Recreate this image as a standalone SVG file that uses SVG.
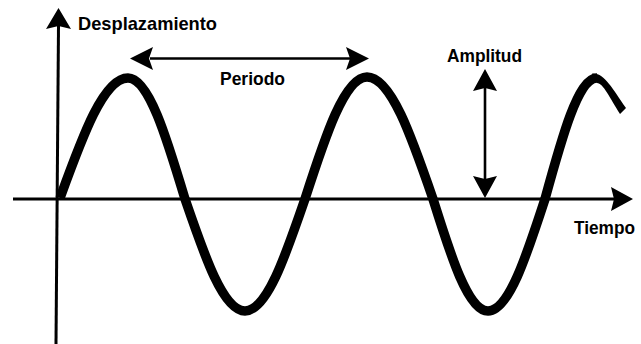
<svg xmlns="http://www.w3.org/2000/svg" width="641" height="344" viewBox="0 0 641 344">
<style>
.lbl{font-family:"Liberation Sans",Arial,sans-serif;font-weight:bold;font-size:19px;fill:#000}
.ax{stroke:#000;stroke-width:3;fill:none}
.thin{stroke:#000;stroke-width:2.6;fill:none}
.wave{stroke:#000;stroke-width:9.5;fill:none;stroke-linejoin:round}
.head{fill:#000;stroke:none}
</style>
<rect width="641" height="344" fill="#fff"/>
<g id="connectors">
  <g id="axis-y">
    <line class="ax" x1="58.5" y1="26" x2="56" y2="344"/>
    <path class="head" d="M58.5,8 L71,29 L58.5,26 L46,29 Z"/>
  </g>
  <g id="axis-x">
    <line class="ax" x1="13" y1="199" x2="614" y2="199"/>
    <path class="head" d="M633,199 L611,211 L614,199 L611,187 Z"/>
  </g>
  <g id="arrow-periodo">
    <line class="thin" x1="150" y1="58.5" x2="350" y2="58.5"/>
    <path class="head" d="M130,58.5 L153,47 L149,58.5 L153,70 Z"/>
    <path class="head" d="M369,58.5 L346,47 L350,58.5 L346,70 Z"/>
  </g>
  <g id="arrow-amplitud">
    <line class="thin" x1="485" y1="88" x2="485" y2="179"/>
    <path class="head" d="M485,69 L497,91 L485,88 L473,91 Z"/>
    <path class="head" d="M485,198 L497,176 L485,179 L473,176 Z"/>
  </g>
</g>
<g id="wave">
  <path class="wave" d="M60,198 C 82.2,137 103.4,78 128,78 C 148.6,78 166.4,137 185,199 C 204.6,256.3 223.3,311 245,311 C 266.7,311 285.4,256.3 305,199 C 325.2,136.5 344.6,77 367,77 C 390.9,77 411.5,136.5 433,199 C 450.9,256.3 468.1,311 488,311 C 508.6,311 526.4,256.3 545,199 C 562,137 578.2,78 597,78"/>
  <path d="M592,73.5 C 604,72 612,88 626,108 L 620,114 C 610,98 603,83 597,83 Z" fill="#000"/>
</g>
<g id="label-desplazamiento"><text class="lbl" x="78" y="30" textLength="139" lengthAdjust="spacingAndGlyphs">Desplazamiento</text></g>
<g id="label-periodo"><text class="lbl" x="220" y="85" textLength="65" lengthAdjust="spacingAndGlyphs">Periodo</text></g>
<g id="label-amplitud"><text class="lbl" x="447" y="62" textLength="75" lengthAdjust="spacingAndGlyphs">Amplitud</text></g>
<g id="label-tiempo"><text class="lbl" x="574" y="234" textLength="61" lengthAdjust="spacingAndGlyphs">Tiempo</text></g>
</svg>
